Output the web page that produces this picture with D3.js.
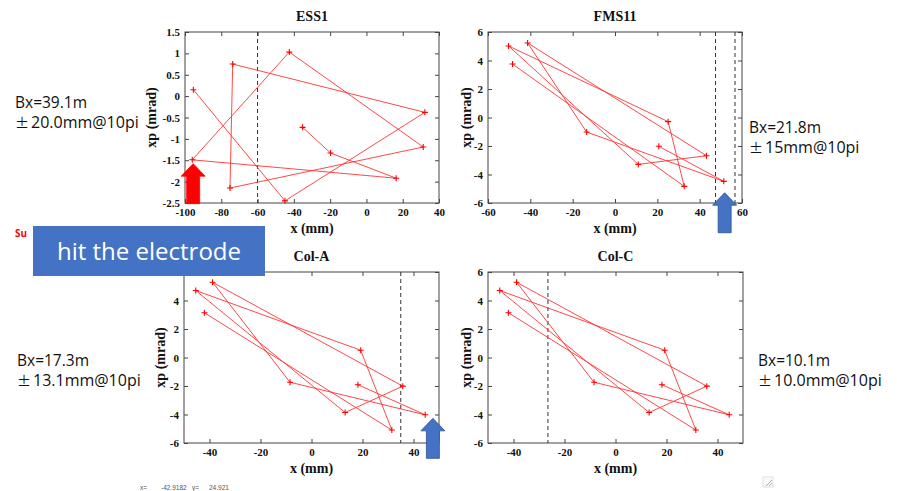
<!DOCTYPE html>
<html>
<head>
<meta charset="utf-8">
<script src="https://cdn.jsdelivr.net/npm/d3@7"></script>
<style>
body { margin: 0; background: #fff; }
.ax text { font-family: "Liberation Serif", serif; font-weight: bold; font-size: 11px; fill: #111; }
.ax line { stroke: #444; }
.ttl { font-family: "Liberation Serif", serif; font-weight: bold; font-size: 14px; fill: #111; }
.note { font-family: "Open Sans", sans-serif; fill: #111; }
</style>
</head>
<body>
<div id="chart"></div>
<script>
// turn-by-turn points (x in mm, xp in mrad), in turn order
var ess1X  = [-35.2, -19.8, 16.4, -96.0, -42.5, 31.3, -75.2, -73.7, 32.2, -44.9, -95.4];
var ess1Xp = [-0.73, -1.33, -1.92, -1.49, 1.03, -1.19, -2.15, 0.75, -0.38, -2.45, 0.15];

var fmsX  = [20.7, 51.4, -13.4, -41.3, 43.2, 11.0, -50.3, 25.1, 32.7, -48.4];
var fmsXp = [-2.02, -4.48, -1.02, 5.23, -2.68, -3.29, 5.02, -0.29, -4.83, 3.75];

var colX  = [18.2, 44.6, -8.4, -38.8, 35.8, 13.2, -45.4, 19.3, 31.5, -42.0];
var colXp = [-1.91, -4.02, -1.74, 5.28, -2.01, -3.86, 4.70, 0.51, -5.09, 3.14];

// tick labels
var ess1XTicks = [-100, -80, -60, -40, -20, 0, 20, 40];
var ess1YTicks = [-2.5, -2, -1.5, -1, -0.5, 0, 0.5, 1, 1.5];
var fmsXTicks = [-60, -40, -20, 0, 20, 40, 60];
var colXTicks = [-40, -20, 0, 20, 40];
var mradTicks = [-6, -4, -2, 0, 2, 4, 6];

// aperture lines (mm)
var ess1Cut = [-60];
var fmsCut = [47.5, 56.7];
var colACut = [35];
var colCCut = [-26.5];

// beam notes
var notesEss1 = ['Bx=39.1m', '20.0mm@10pi'];
var notesFms = ['Bx=21.8m', '15mm@10pi'];
var notesColA = ['Bx=17.3m', '13.1mm@10pi'];
var notesColC = ['Bx=10.1m', '10.0mm@10pi'];

var figure = {};

figure.panel = function(svg, p) {
    var x = d3.scaleLinear().domain(p.xDomain).range([p.left, p.left + p.width]);
    var y = d3.scaleLinear().domain(p.yDomain).range([p.top + p.height, p.top]);
    var fmt = function(d) { return String(d); };
    var bottom = p.top + p.height, right = p.left + p.width;

    var g = svg.append('g');
    g.append('g').attr('class', 'ax').attr('transform', 'translate(0,' + bottom + ')')
        .call(d3.axisBottom(x).tickValues(p.xTicks).tickSize(-4).tickPadding(5).tickFormat(fmt));
    g.append('g').attr('class', 'ax').attr('transform', 'translate(0,' + p.top + ')')
        .call(d3.axisTop(x).tickValues(p.xTicks).tickSize(-4).tickFormat(''));
    g.append('g').attr('class', 'ax').attr('transform', 'translate(' + p.left + ',0)')
        .call(d3.axisLeft(y).tickValues(p.yTicks).tickSize(-4).tickPadding(5).tickFormat(fmt));
    g.append('g').attr('class', 'ax').attr('transform', 'translate(' + right + ',0)')
        .call(d3.axisRight(y).tickValues(p.yTicks).tickSize(-4).tickFormat(''));
    g.selectAll('.domain').remove();

    g.append('rect')
        .attr('x', p.left).attr('y', p.top)
        .attr('width', p.width).attr('height', p.height)
        .attr('fill', 'none').attr('stroke', '#444').attr('stroke-width', 1);

    g.selectAll('line.cut').data(p.cut).enter().append('line')
        .attr('class', 'cut')
        .attr('x1', d => x(d)).attr('x2', d => x(d))
        .attr('y1', p.top).attr('y2', bottom)
        .attr('stroke', '#333').attr('stroke-dasharray', '4,3');

    var pts = d3.zip(p.xs, p.xps);
    g.append('path')
        .attr('d', d3.line().x(d => x(d[0])).y(d => y(d[1]))(pts))
        .attr('fill', 'none').attr('stroke', '#f33').attr('stroke-width', 0.9);
    g.selectAll('path.pt').data(pts).enter().append('path')
        .attr('class', 'pt')
        .attr('transform', d => 'translate(' + x(d[0]) + ',' + y(d[1]) + ')')
        .attr('d', 'M-3,0H3M0,-3V3')
        .attr('stroke', '#f00').attr('stroke-width', 1.1);

    g.append('text').attr('class', 'ttl')
        .attr('x', p.left + p.width / 2).attr('y', p.top - 11)
        .attr('text-anchor', 'middle').text(p.title);
    g.append('text').attr('class', 'ttl')
        .attr('x', p.left + p.width / 2).attr('y', bottom + 30)
        .attr('text-anchor', 'middle').text('x (mm)');
    g.append('text').attr('class', 'ttl')
        .attr('transform', 'translate(' + (p.left - p.ylab) + ',' + (p.top + p.height / 2) + ') rotate(-90)')
        .attr('text-anchor', 'middle').attr('dy', '0.35em').text('xp (mrad)');

    return { x: x, y: y };
};

figure.note = function(svg, lines, left, base) {
    svg.append('text').attr('class', 'note').attr('x', left).attr('y', base)
        .style('font-size', '15.5px').text(lines[0]);
    var t = svg.append('text').attr('class', 'note').attr('x', left).attr('y', base + 20)
        .style('font-size', '16px');
    t.append('tspan').style('font-family', '"Noto Sans CJK JP"').style('font-size', '14px').text('\u00b1');
    t.append('tspan').attr('dx', 2).text(lines[1]);
};

figure.arrow = function(svg, tx, ty, color, edge) {
    // tip at (tx, ty), pointing up
    var hw = 12, hh = 12.5, sw = 6.5, len = 40;
    var d = 'M' + tx + ',' + ty +
        'L' + (tx + hw) + ',' + (ty + hh) +
        'L' + (tx + sw) + ',' + (ty + hh) +
        'L' + (tx + sw) + ',' + (ty + len) +
        'L' + (tx - sw) + ',' + (ty + len) +
        'L' + (tx - sw) + ',' + (ty + hh) +
        'L' + (tx - hw) + ',' + (ty + hh) + 'Z';
    svg.append('path').attr('d', d).attr('fill', color)
        .attr('stroke', edge).attr('stroke-width', 0.8);
};

figure.draw = function() {
    var svg = d3.select('#chart').append('svg')
        .attr('width', 897).attr('height', 491);

    var ess1 = figure.panel(svg, {
        title: 'ESS1', xs: ess1X, xps: ess1Xp,
        xDomain: [-100, 40], yDomain: [-2.5, 1.5],
        xTicks: ess1XTicks, yTicks: ess1YTicks, cut: ess1Cut,
        left: 185, top: 32, width: 254, height: 171, ylab: 34
    });
    var fms = figure.panel(svg, {
        title: 'FMS11', xs: fmsX, xps: fmsXp,
        xDomain: [-60, 60], yDomain: [-6, 6],
        xTicks: fmsXTicks, yTicks: mradTicks, cut: fmsCut,
        left: 488, top: 32, width: 254, height: 171, ylab: 22
    });
    var colA = figure.panel(svg, {
        title: 'Col-A', xs: colX, xps: colXp,
        xDomain: [-50, 50], yDomain: [-6, 6],
        xTicks: colXTicks, yTicks: mradTicks, cut: colACut,
        left: 184, top: 272, width: 255, height: 171, ylab: 24
    });
    figure.panel(svg, {
        title: 'Col-C', xs: colX, xps: colXp,
        xDomain: [-50, 50], yDomain: [-6, 6],
        xTicks: colXTicks, yTicks: mradTicks, cut: colCCut,
        left: 488, top: 272, width: 255, height: 171, ylab: 22
    });

    figure.note(svg, notesEss1, 15, 108);
    figure.note(svg, notesFms, 749, 133);
    figure.note(svg, notesColA, 17, 366);
    figure.note(svg, notesColC, 758, 366);

    figure.arrow(svg, ess1.x(-95.5), ess1.y(-1.58), '#f00', '#f00');
    figure.arrow(svg, fms.x(51.8), fms.y(-5.28), '#4472c4', '#2f528f');
    figure.arrow(svg, colA.x(47.6), colA.y(-4.27), '#4472c4', '#2f528f');

    // callout box
    svg.append('text').attr('x', 15).attr('y', 237)
        .style('font-family', '"Open Sans", sans-serif').style('font-weight', 'bold')
        .style('font-size', '10px').attr('fill', '#f00').text('Su');
    svg.append('rect').attr('x', 33).attr('y', 226).attr('width', 232).attr('height', 50)
        .attr('fill', '#4472c4');
    svg.append('text').attr('x', 149).attr('y', 260).attr('text-anchor', 'middle')
        .style('font-family', '"Open Sans", sans-serif').style('font-size', '24px')
        .attr('fill', '#fff').text('hit the electrode');

    // cursor readout at the bottom
    var ro = svg.append('text').attr('y', 490)
        .style('font-family', '"Liberation Sans", sans-serif').style('font-size', '6.5px')
        .attr('fill', '#555');
    ro.append('tspan').attr('x', 140).text('x=');
    ro.append('tspan').attr('x', 161).text('-42.9182');
    ro.append('tspan').attr('x', 192).text('y=');
    ro.append('tspan').attr('x', 209).text('24.921');

    // window resize grip
    var grip = svg.append('g').attr('transform', 'translate(763,477)');
    grip.append('rect').attr('width', 10).attr('height', 10)
        .attr('fill', '#fafafa').attr('stroke', '#ddd');
    grip.append('path').attr('d', 'M3,9L9,3M6,9L9,6').attr('stroke', '#aaa');
};

figure.draw();
</script>
</body>
</html>
